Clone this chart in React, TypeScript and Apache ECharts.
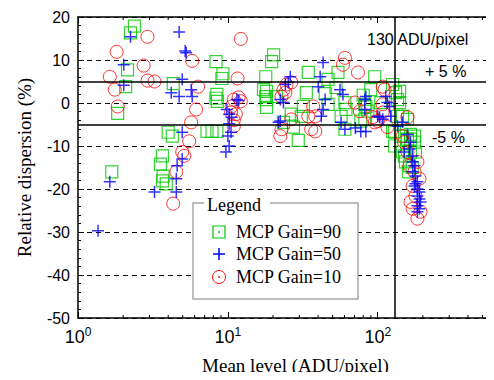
import React, { useEffect, useRef } from 'react';
import * as echarts from 'echarts';

// MCP Gain = 90 (green squares): [mean level (ADU/pixel), relative dispersion (%)]
const gain90: number[][] = [
  [2.38, 17.9], [2.24, 16.3], [2.14, 7.7], [2.08, 3.8], [1.84, -2.4], [1.68, -16.0],
  [4.32, 4.5], [4.0, -6.8], [4.26, -7.7], [3.66, -12.3], [3.55, -14.2], [3.7, -17.0], [3.66, -18.1], [3.88, -18.8],
  [8.33, 9.6], [9.27, 6.8], [9.12, 5.7], [8.45, 2.0], [8.33, 1.1], [8.5, 0.4], [7.26, -6.6], [7.84, -6.6], [8.45, -6.6],
  [20.2, 11.2], [19.6, 9.6], [17.9, 6.1], [17.3, 3.1], [18.1, 2.7], [17.9, 1.5], [18.1, 0.8], [18.1, -1.0], [21.1, 1.5],
  [23.5, -4.5], [26.5, -2.6], [27.4, -5.6], [29.5, -8.7],
  [34.4, 7.1], [33.4, 2.4], [31.9, -0.8], [30.9, -3.1], [46.6, 5.5], [44.6, 2.2], [52.7, 3.6], [54.3, 7.1], [46.6, -0.3],
  [60.4, 0.1], [57, -3.1], [61.4, -1.5], [60.4, -6.1], [80, 1.8], [82, -0.3], [82, -3.8], [85.9, -1.9], [77.1, -4.2],
  [95.5, 6.1], [89.9, 3.1], [83.3, -0.8], [104.7, 0.1], [125.7, 4.3], [131.6, 2.4],
  [140, 2.7], [135.6, 0.8], [129.6, -6.8], [129.6, -10], [146.5, -3.1], [158, -3.8], [165.5, -8.4], [151, -12.3],
  [153, -13.7], [165.5, -11.4], [176, -7.7], [140, 0.1], [135.6, -3.1], [125.7, -6.6], [142, -7.7], [158, -8.4],
  [165.5, -7.3], [176, -9.1], [146.5, -11.4], [163, -14.6], [178.6, -11.4], [160, -16], [170, -15],
];

// MCP Gain = 50 (blue crosses)
const gain50: number[][] = [
  [2.24, 15.4], [4.73, 16.5], [5.19, 12.1], [5.27, 11.7], [2.02, 8.9], [2.02, 4.1], [4.96, 5.5], [4.19, 2.4],
  [4.73, 1.5], [5.69, 3.1], [5.78, 1.5], [4.96, -6.8], [4.59, -14.6], [4.96, -13.0], [4.53, -17.6], [4.53, -20.7],
  [1.63, -18.3], [3.24, -20.7], [1.36, -29.7],
  [10.2, -2.6], [10.6, -3.3], [10.0, -7.7], [10.2, -10.0], [9.7, -11.4], [11.5, 0.8], [11.8, 0.6], [9.85, -1.5],
  [10.5, -6.8], [10.2, -4.8],
  [43.2, 9.4], [41.3, 6.1], [40.1, 3.8], [25.3, 4.8], [26.1, 6.1], [24.2, 4.3], [23.5, 0.1], [22.4, 0.8], [22.4, -4.2],
  [21.8, -4.5], [44.6, 0.8], [43.2, -1.5], [42, -3.1], [56.9, -4.5], [60.4, -6.1], [77.1, -6.6], [83.3, -6.6],
  [82, -1.5], [83.3, 1.5], [103, -3.3], [116, 0.1], [113, 1.5], [120, -0.8], [122, -3.1], [56, 3.1], [58.6, 2.0],
  [82, 0.8], [100, -3.1], [108, -3.8], [71, -5.8],
  [163, -10.7], [170, -12.3], [176, -14.6], [171, -16.0], [178.6, -17.0], [184, -18.3], [176, -19.3], [184, -20.0],
  [190, -20.7], [184, -21.6], [190, -22.3], [193, -23.0], [184, -23.9], [190, -24.6], [184, -25.3], [178.6, -18.8],
  [171, -13.7], [165.5, -9.1], [158, -7.3], [146.5, -4.5], [135.6, -5.4], [150, -11.4],
];

// MCP Gain = 10 (red circles)
const gain10: number[][] = [
  [2.91, 15.4], [1.81, 11.9], [1.63, 6.1], [1.76, 3.1], [1.84, -0.8], [2.74, 8.7], [2.91, 5.2], [3.24, 5.0],
  [5.78, 9.8], [6.33, 3.8], [6.14, -1.5], [5.69, -4.5], [5.52, -8.9], [4.96, -11.4], [5.11, -12.3], [4.53, -16.0],
  [4.32, -23.4],
  [12.2, 14.9], [11.6, 5.7], [10.96, 0.8], [10.6, -0.8], [10.5, -2.2], [10.96, -5.4], [11.8, 1.3], [12.2, 0.4],
  [11.3, -2.6], [10.96, -4.0],
  [23.5, 3.1], [22.8, -6.1], [22.4, -7.7], [24.6, 4.3], [22.8, 1.5], [38.3, -6.6], [34.4, -3.1], [60.4, 10.5],
  [58.6, 8.9], [73.8, 7.1], [26.5, 4.8], [24.2, 2.4], [37.1, -0.8], [38.3, -3.1], [36, -6.1], [70.5, 0.1],
  [76, -1.9], [92.7, -3.3], [100, -4.2], [111, 3.1], [116, -5.6], [26.5, -3.8], [158, -3.3], [108, -2.2],
  [108, 3.8], [108, -0.3], [95.5, -4.5], [171, -19.3], [184, -26.9], [165.5, -23.0], [176, -16.0], [163, -14.6],
  [193, -25.3], [150, -9.1], [158, -11.4], [178.6, -21.6], [171, -24.6], [190, -17.6], [184, -13.7], [146.5, -7.7],
];

const xMinorTicks: number[] = [2, 3, 4, 5, 6, 7, 8, 9, 20, 30, 40, 50, 60, 70, 80, 90, 200, 300, 400, 500];
const thresholdLevel = 130;
const bandLimits = [5, -5];
const legendLabels = ['MCP Gain=90', 'MCP Gain=50', 'MCP Gain=10'];

const GREEN = '#00c800';
const BLUE = '#0000ff';
const RED = '#ff0000';
const SANS = '"Liberation Sans", Arial, sans-serif';
const SERIF = '"Liberation Serif", "Times New Roman", serif';

export default function App() {
  const ref = useRef<HTMLDivElement>(null);
  useEffect(() => {
    const chart = echarts.init(ref.current!, null, { renderer: 'svg' });
    const X_MIN = 1;
    const X_MAX = 570;
    const Y_MIN = -50;
    const Y_MAX = 20;

    const lx = 219;
    const rows = [232, 254, 277];
    const Z = 100;
    const dot = (cx: number, cy: number, color: string) => ({
      type: 'circle', z: Z, shape: { cx, cy, r: 0.9 }, style: { fill: color },
    });

    const option: any = {
      animation: false,
      backgroundColor: '#ffffff',
      grid: { left: 78, top: 17, right: 0, bottom: 60 },
      xAxis: [
        {
          type: 'log', logBase: 10, min: X_MIN, max: X_MAX, position: 'bottom',
          axisLine: { show: true, onZero: false, lineStyle: { color: '#000', width: 1.5 } },
          axisTick: { show: true, inside: true, length: 6, lineStyle: { color: '#000', width: 1 } },
          splitLine: { show: false },
          axisLabel: {
            margin: 8,
            formatter: (v: number) => {
              const e = Math.round(Math.log10(v));
              return Math.abs(Math.pow(10, e) - v) < 1e-6 * v ? `{a|10}{b|${e}}` : '';
            },
            rich: {
              a: { fontSize: 18, fontFamily: SANS, color: '#000' },
              b: { fontSize: 12, fontFamily: SANS, color: '#000', padding: [0, 0, 10, 0] },
            },
          },
          name: 'Mean level (ADU/pixel)', nameLocation: 'middle', nameGap: 38,
          nameTextStyle: { fontFamily: SERIF, fontSize: 19, color: '#000', padding: [0, 0, 0, 22] },
        },
        {
          type: 'log', logBase: 10, min: X_MIN, max: X_MAX, position: 'top',
          axisLine: { show: true, onZero: false, lineStyle: { color: '#000', width: 1.5 } },
          axisTick: { show: true, inside: true, length: 6, lineStyle: { color: '#000', width: 1 } },
          axisLabel: { show: false },
          splitLine: { show: false },
        },
      ],
      yAxis: {
        type: 'value', min: Y_MIN, max: Y_MAX, interval: 10,
        axisLine: { show: true, onZero: false, lineStyle: { color: '#000', width: 1.5 } },
        axisTick: { show: true, inside: true, length: 6, lineStyle: { color: '#000', width: 1 } },
        minorTick: { show: true, splitNumber: 5, length: 3, lineStyle: { color: '#000', width: 1 } },
        splitLine: { show: true, lineStyle: { color: '#000', width: 1, type: [5, 4] } },
        axisLabel: { fontFamily: SANS, fontSize: 16, color: '#000', margin: 8 },
        name: 'Relative dispersion (%)', nameLocation: 'middle', nameGap: 44, nameRotate: 90,
        nameTextStyle: { fontFamily: SERIF, fontSize: 19, color: '#000' },
      },
      series: [
        {
          type: 'custom', name: 'minorTicks', silent: true, z: 3,
          data: xMinorTicks.map((v) => [v, Y_MIN]),
          encode: { x: 0, y: 1 },
          renderItem: (_p: any, api: any) => {
            const b = api.coord([api.value(0), Y_MIN]);
            const t = api.coord([api.value(0), Y_MAX]);
            return {
              type: 'group',
              children: [
                { type: 'line', shape: { x1: b[0], y1: b[1], x2: b[0], y2: b[1] - 3 }, style: { stroke: '#000', lineWidth: 1 } },
                { type: 'line', shape: { x1: t[0], y1: t[1], x2: t[0], y2: t[1] + 3 }, style: { stroke: '#000', lineWidth: 1 } },
              ],
            };
          },
        },
        {
          type: 'scatter', name: legendLabels[0], data: gain90,
          symbol: 'rect', symbolSize: 12,
          itemStyle: { color: 'transparent', borderColor: GREEN, borderWidth: 1.2 },
          markLine: {
            silent: true, symbol: ['none', 'none'], label: { show: false },
            lineStyle: { color: '#000', type: 'solid', width: 1.5 },
            data: [{ yAxis: bandLimits[0] }, { yAxis: bandLimits[1] }, { xAxis: thresholdLevel }],
          },
        },
        {
          type: 'scatter', name: legendLabels[2], data: gain10,
          symbol: 'circle', symbolSize: 13,
          itemStyle: { color: 'transparent', borderColor: RED, borderWidth: 1 },
        },
        {
          type: 'scatter', name: legendLabels[1], data: gain50,
          symbol: 'path://M0,6L12,6M6,0L6,12', symbolSize: 12,
          itemStyle: { color: 'transparent', borderColor: BLUE, borderWidth: 1.5 },
        },
      ],
      graphic: [
        { type: 'text', left: 367, top: 31, style: { text: '130 ADU/pixel', font: `16px ${SANS}`, fill: '#000' } },
        { type: 'text', left: 425, top: 63, style: { text: '+ 5 %', font: `16px ${SANS}`, fill: '#000' } },
        { type: 'text', left: 432, top: 129, style: { text: '-5 %', font: `16px ${SANS}`, fill: '#000' } },
        { type: 'rect', z: Z, shape: { x: 193, y: 203, width: 165, height: 96 }, style: { fill: '#fff', stroke: '#a8a8a8', lineWidth: 1.5 } },
        { type: 'rect', z: Z, shape: { x: 204, y: 196, width: 66, height: 16 }, style: { fill: '#fff' } },
        { type: 'text', z: Z, x: 207, y: 205, style: { text: 'Legend', font: `18px ${SERIF}`, fill: '#000', verticalAlign: 'middle' } },
        { type: 'rect', z: Z, shape: { x: lx - 6, y: rows[0] - 6, width: 12, height: 12 }, style: { fill: 'none', stroke: GREEN, lineWidth: 1.2 } },
        dot(lx, rows[0], GREEN),
        { type: 'line', z: Z, shape: { x1: lx - 6, y1: rows[1], x2: lx + 6, y2: rows[1] }, style: { stroke: BLUE, lineWidth: 1.5 } },
        { type: 'line', z: Z, shape: { x1: lx, y1: rows[1] - 6, x2: lx, y2: rows[1] + 6 }, style: { stroke: BLUE, lineWidth: 1.5 } },
        { type: 'circle', z: Z, shape: { cx: lx, cy: rows[2], r: 6.5 }, style: { fill: 'none', stroke: RED, lineWidth: 1 } },
        dot(lx, rows[2], RED),
        ...legendLabels.map((t, i) => ({
          type: 'text', z: Z, x: 236, y: rows[i], style: { text: t, font: `18px ${SERIF}`, fill: '#000', verticalAlign: 'middle' },
        })),
      ],
    };
    chart.setOption(option);
    return () => chart.dispose();
  }, []);
  return <div ref={ref} style={{ width: 494, height: 380, margin: -8 }} />;
}
